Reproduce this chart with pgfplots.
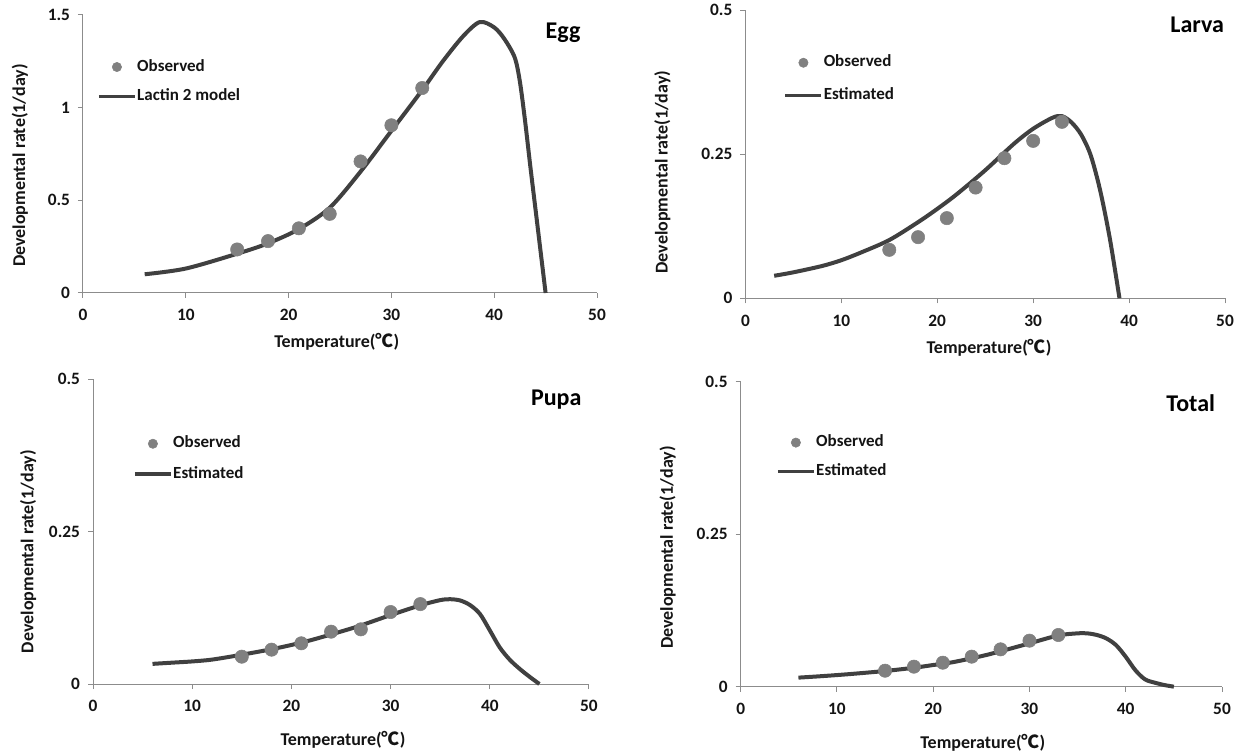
\documentclass[border=0pt]{standalone}
\usepackage{fontspec}
\setmainfont{Carlito}
\newfontfamily\cjk{Noto Sans CJK SC}
\usepackage{pgfplots}
\pgfplotsset{compat=1.18}

\definecolor{dotgray}{RGB}{128,128,128}
\definecolor{linegray}{RGB}{64,64,64}
\definecolor{axgray}{RGB}{140,140,140}
\definecolor{txt}{RGB}{20,20,20}

\tikzset{ttl/.style={font=\fontsize{18}{20}\selectfont\bfseries, text=black}}

\pgfplotsset{
  rate/.style={
    scale only axis,
    axis lines=left,
    axis line style={-, draw=axgray, line width=0.75pt},
    tick style={draw=axgray, line width=0.75pt},
    tick align=outside, major tick length=3.75pt,
    xmin=0, xmax=50, ymin=0, xtick={0,10,...,50},
    clip=false,
    /pgf/number format/assume math mode=true,
    ticklabel style={font=\fontsize{13}{15}\selectfont\bfseries, text=txt},
    xticklabel style={yshift=-5pt},
    yticklabel style={xshift=-2.5pt},
    label style={font=\fontsize{13.5}{15}\selectfont\bfseries, text=txt},
    xlabel={Temperature({\cjk ℃})},
    ylabel={Developmental rate(1/day)},
    legend cell align=left,
    legend style={draw=none, fill=none, anchor=north west, inner sep=0pt,
      column sep=0pt, font=\fontsize{12.75}{15}\selectfont\bfseries, text=txt,
      nodes={inner sep=0.5pt, text height=9pt, text depth=3pt}},
    reverse legend,
  },
  obs/.style={only marks, mark=*, mark size=5pt, color=dotgray,
    legend image code/.code={\draw[mark repeat=2, mark phase=2, mark size=3.5pt]
      plot coordinates {(0pt,0pt) (13.5pt,0pt) (27pt,0pt)};}},
  est/.style={no marks, smooth, line width=3pt, color=linegray,
    legend image code/.code={\draw[line width=2.5pt] (0pt,0pt) -- (27pt,0pt);}},
}

\begin{document}
\begin{tikzpicture}
\useasboundingbox (0,0) rectangle (935.25pt,-566.25pt);

% Egg
\begin{axis}[rate, at={(62.25pt,-219.75pt)}, anchor=south west,
  width=385.5pt, height=208.5pt, ymax=1.5, ytick={0,0.5,1,1.5},
  xlabel style={at={(axis description cs:0.4936,-0.175)}, anchor=center},
  ylabel style={at={(axis description cs:-0.1226,0.4586)}, anchor=center},
  legend style={at={(axis description cs:0.0272,0.845)}, row sep=9pt}]
\addplot[est] coordinates {
  (6,0.101) (10,0.132) (15,0.212) (18,0.268) (21,0.345) (24,0.46) (27,0.655)
  (30,0.875) (33,1.095) (35,1.25) (37,1.387) (38.6,1.462) (40,1.433)
  (41,1.37) (42,1.27) (42.5,1.14) (43,0.93) (43.5,0.69) (44,0.46) (44.5,0.23) (45,0)
};
\addlegendentry{Lactin 2 model}
\addplot[obs] coordinates {
  (15,0.235) (18,0.28) (21,0.349) (24,0.427) (27,0.71) (30,0.905) (33,1.106)
};
\addlegendentry{Observed}
\node[ttl] at (rel axis cs:0.934,0.935) {Egg};
\end{axis}

% Larva
\begin{axis}[rate, at={(559.05pt,-223.7pt)}, anchor=south west,
  width=359.7pt, height=216.2pt, ymax=0.5, ytick={0,0.25,0.5},
  xlabel style={at={(axis description cs:0.508,-0.173)}, anchor=center},
  ylabel style={at={(axis description cs:-0.173,0.4376)}, anchor=center},
  legend style={at={(axis description cs:0.0794,0.848)}, row sep=11.7pt}]
\addplot[est] coordinates {
  (3,0.039) (5,0.045) (8,0.056) (10,0.066) (12,0.079) (15,0.101) (18,0.132)
  (20,0.155) (22,0.180) (25,0.222) (28,0.268) (30,0.294) (32,0.313) (33,0.316)
  (34,0.305) (35,0.284) (36,0.248) (37,0.186) (38,0.103) (39,0)
};
\addlegendentry{Estimated}
\addplot[obs] coordinates {
  (15,0.084) (18,0.106) (21,0.139) (24,0.192) (27,0.243) (30,0.273) (33,0.306)
};
\addlegendentry{Observed}
\node[ttl] at (rel axis cs:0.942,0.948) {Larva};
\end{axis}

% Pupa
\begin{axis}[rate, at={(69.75pt,-513pt)}, anchor=south west,
  width=372pt, height=228.75pt, ymax=0.5, ytick={0,0.25,0.5},
  xlabel style={at={(axis description cs:0.504,-0.184)}, anchor=center},
  ylabel style={at={(axis description cs:-0.131,0.434)}, anchor=center},
  legend style={at={(axis description cs:0.0806,0.817)}, row sep=9.75pt}]
\addplot[est] coordinates {
  (6,0.033) (8,0.035) (10,0.037) (12,0.040) (15,0.048) (18,0.057) (20,0.064)
  (22,0.072) (25,0.086) (27,0.096) (30,0.113) (33,0.129) (35,0.1375) (36,0.139)
  (37,0.137) (38,0.1295) (39,0.115) (40,0.088) (41,0.060) (42,0.040) (43,0.025)
  (44,0.012) (45,0)
};
\addlegendentry{Estimated}
\addplot[obs] coordinates {
  (15,0.0448) (18,0.0563) (21,0.0667) (24,0.0858) (27,0.0896) (30,0.118) (33,0.131)
};
\addlegendentry{Observed}
\node[ttl] at (rel axis cs:0.934,0.931) {Pupa};
\end{axis}

% Total
\begin{axis}[rate, at={(555.5pt,-515pt)}, anchor=south west,
  width=361pt, height=228.75pt, ymax=0.5, ytick={0,0.25,0.5},
  xlabel style={at={(axis description cs:0.503,-0.184)}, anchor=center},
  ylabel style={at={(axis description cs:-0.152,0.456)}, anchor=center},
  legend style={at={(axis description cs:0.0733,0.8295)}, row sep=8.7pt}]
\addplot[est] coordinates {
  (6,0.0148) (8,0.0168) (10,0.019) (12,0.0215) (15,0.0257) (18,0.031) (20,0.0355)
  (22,0.040) (25,0.050) (27,0.058) (30,0.071) (33,0.084) (35,0.0874) (36,0.0874)
  (37,0.0847) (38,0.079) (39,0.068) (40,0.049) (41,0.027) (42,0.012) (43,0.0066)
  (44,0.0027) (45,0)
};
\addlegendentry{Estimated}
\addplot[obs] coordinates {
  (15,0.0262) (18,0.0328) (21,0.0393) (24,0.0492) (27,0.0612) (30,0.0754) (33,0.0847)
};
\addlegendentry{Observed}
\node[ttl] at (rel axis cs:0.935,0.930) {Total};
\end{axis}
\end{tikzpicture}
\end{document}
